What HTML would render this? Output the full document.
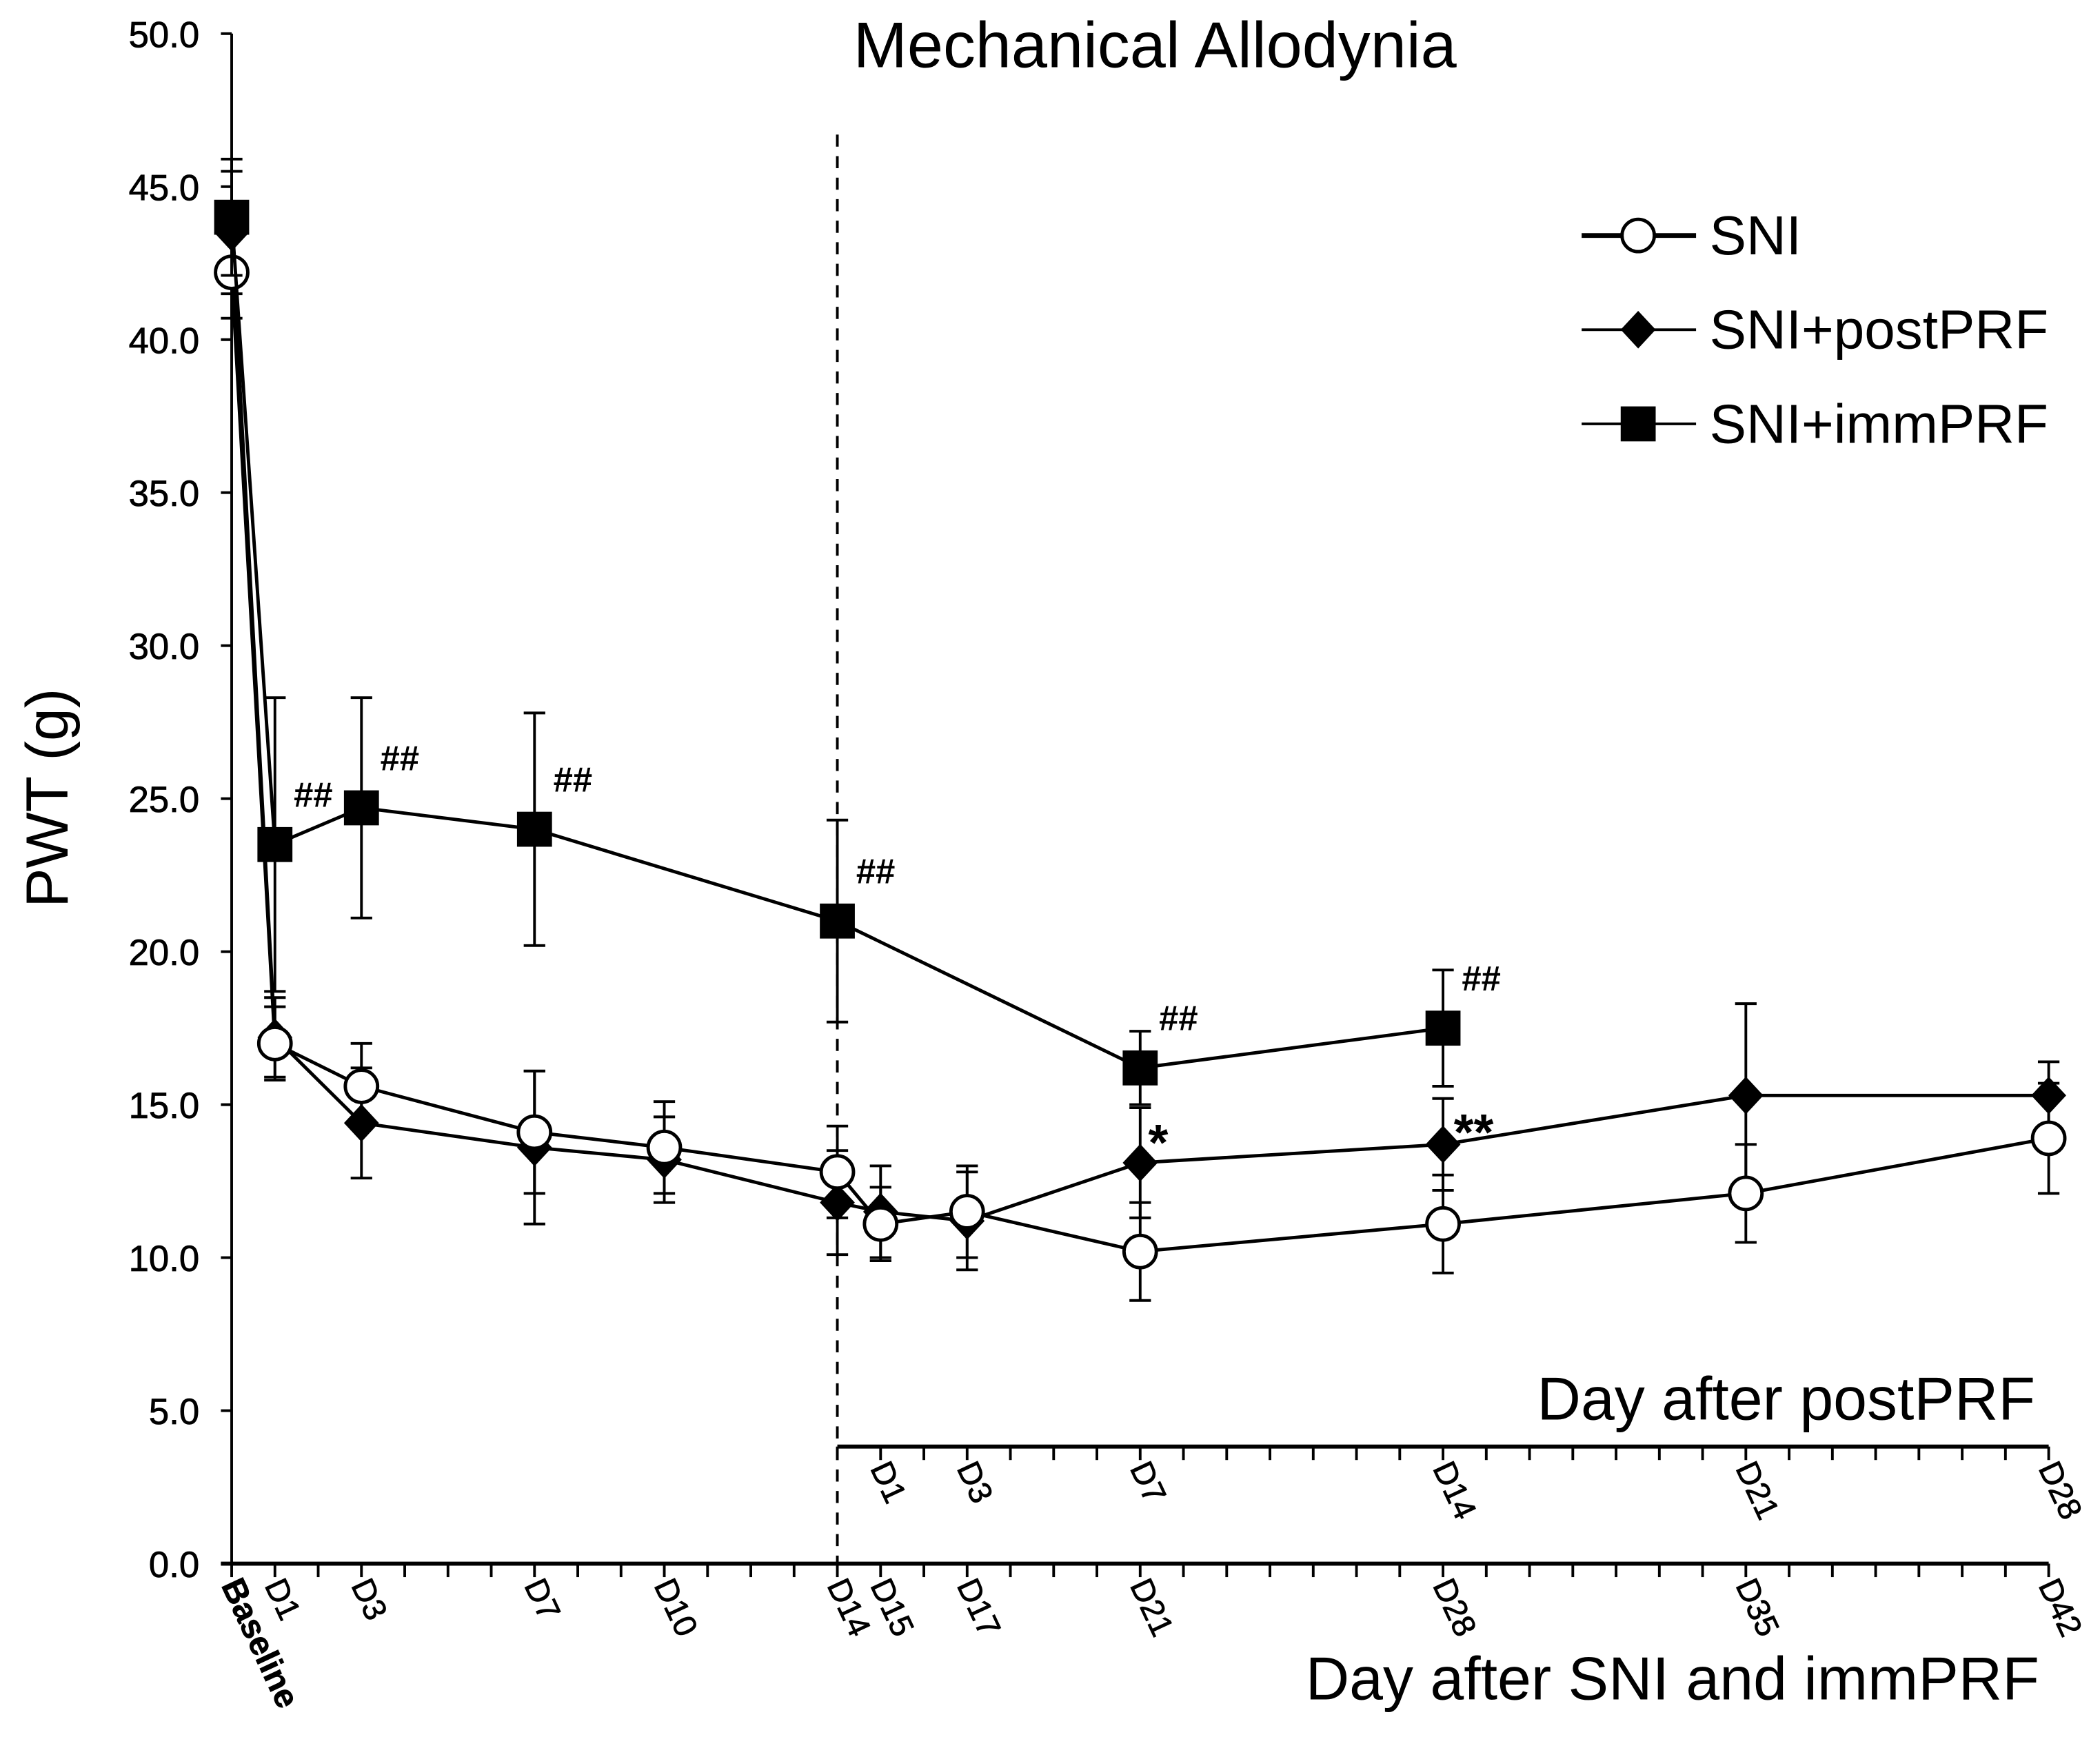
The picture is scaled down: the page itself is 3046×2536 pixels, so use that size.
<!DOCTYPE html>
<html><head><meta charset="utf-8"><style>
html,body{margin:0;padding:0;background:#fff}
svg{display:block}
text{font-family:"Liberation Sans",Arial,sans-serif;fill:#000}
</style></head><body>
<svg id="chart" width="3046" height="2536" viewBox="0 0 1560 1299" xmlns="http://www.w3.org/2000/svg">
<g id="g"></g>
</svg>
<script>
const days = [0,1,3,7,10,14,15,17,21,28,35,42];
const dayLabels = ["Baseline","D1","D3","D7","D10","D14","D15","D17","D21","D28","D35","D42"];
const postDays = [1,3,7,14,21,28];
const postLabels = ["D1","D3","D7","D14","D21","D28"];
const yTicks = [0,5,10,15,20,25,30,35,40,45,50];
const yTickLabels = ["0.0","5.0","10.0","15.0","20.0","25.0","30.0","35.0","40.0","45.0","50.0"];
const sniVals = [42.2,17.0,15.6,14.1,13.6,12.8,11.1,11.5,10.2,11.1,12.1,13.9];
const sniErr  = [1.5,1.2,1.4,2.0,1.5,1.5,1.2,1.5,1.6,1.6,1.6,1.8];
const postVals = [43.5,17.2,14.4,13.6,13.2,11.8,11.5,11.2,13.1,13.7,15.3,15.3];
const postErr  = [2.0,1.3,1.8,2.5,1.4,1.7,1.5,1.6,1.8,1.5,3.0,1.1];
const immDays = [0,1,3,7,14,21,28];
const immVals = [44.0,23.5,24.7,24.0,21.0,16.2,17.5];
const immErr  = [1.9,4.8,3.6,3.8,3.3,1.2,1.9];
const hashDays = [1,3,7,14,21,28];
const X0=172, X1=1522, Y0=1162, Y1=25;
const xs = d => X0 + (X1-X0)*d/42;
const ys = v => Y0 - (Y0-Y1)*v/50;
const NS="http://www.w3.org/2000/svg";
const g=document.getElementById('g');
function mk(tag,attrs,parent){const e=document.createElementNS(NS,tag);for(const k in attrs)e.setAttribute(k,attrs[k]);(parent||g).appendChild(e);return e;}
function txt(s,attrs,parent){const e=mk('text',attrs,parent);e.textContent=s;return e;}

let e;
e=mk('line',{x1:X0,y1:Y0,x2:X0,y2:Y1,stroke:'#000','stroke-width':2});


e=mk('line',{x1:X0-8,y1:Y0,x2:X1,y2:Y0,stroke:'#000','stroke-width':3});


yTicks.forEach((v,i)=>{
  mk('line',{x1:X0-8,y1:ys(v),x2:X0,y2:ys(v),stroke:'#000','stroke-width':2});
  e=txt(yTickLabels[i],{x:X0-24,y:ys(v)+10,'font-size':27,'text-anchor':'end',stroke:'#000','stroke-width':0.4});
  
  
});
for(let d=0;d<=42;d++){mk('line',{x1:xs(d),y1:Y0,x2:xs(d),y2:Y0+10,stroke:'#000','stroke-width':2});}
days.forEach((d,i)=>{
  const x=xs(d)-8,y=Y0+16;
  e=txt(dayLabels[i],{x:x,y:y,'font-size':dayLabels[i]==='Baseline'?25:24,transform:`rotate(65 ${x} ${y})`,'font-weight':dayLabels[i]==='Baseline'?'bold':'normal',stroke:'#000','stroke-width':0.4});
  
  
});
const PY=1075;
e=mk('line',{x1:xs(14),y1:PY,x2:X1,y2:PY,stroke:'#000','stroke-width':3});


for(let d=0;d<=28;d++){mk('line',{x1:xs(14+d),y1:PY,x2:xs(14+d),y2:PY+10,stroke:'#000','stroke-width':2});}
postDays.forEach((d,i)=>{
  const x=xs(14+d)-8,y=PY+16;
  e=txt(postLabels[i],{x:x,y:y,'font-size':24,transform:`rotate(65 ${x} ${y})`,stroke:'#000','stroke-width':0.4});
  
  
});
e=mk('line',{x1:xs(14),y1:100,x2:xs(14),y2:Y0,stroke:'#000','stroke-width':2,'stroke-dasharray':'9,7'});



function series(dd,vals,err,marker,name){
  const pts=dd.map((d,i)=>[xs(d),ys(vals[i])]);
  e=mk('polyline',{points:pts.map(p=>p.join(',')).join(' '),fill:'none',stroke:'#000','stroke-width':2.5});
  
  
  dd.forEach((d,i)=>{
    const x=xs(d),t=ys(vals[i]+err[i]),b=ys(vals[i]-err[i]);
    mk('line',{x1:x,y1:t,x2:x,y2:b,stroke:'#000','stroke-width':2});
    mk('line',{x1:x-8,y1:t,x2:x+8,y2:t,stroke:'#000','stroke-width':2});
    mk('line',{x1:x-8,y1:b,x2:x+8,y2:b,stroke:'#000','stroke-width':2});
  });
  dd.forEach((d,i)=>{
    const x=xs(d),y=ys(vals[i]);
    if(marker==='circle') e=mk('circle',{cx:x,cy:y,r:12,fill:'#fff',stroke:'#000','stroke-width':2.5});
    else if(marker==='diamond') e=mk('polygon',{points:`${x},${y-14} ${x+13},${y} ${x},${y+14} ${x-13},${y}`,fill:'#000'});
    else e=mk('rect',{x:x-13,y:y-13,width:26,height:26,fill:'#000'});
    
    
  });
}
series(days,postVals,postErr,'diamond','sni-postprf');
series(days,sniVals,sniErr,'circle','sni');
series(immDays,immVals,immErr,'square','sni-immprf');

hashDays.forEach(d=>{
  const i=immDays.indexOf(d);
  e=txt('##',{x:xs(d)+14,y:ys(immVals[i])-28,'font-size':26,'font-weight':'bold'});
  
  
});
e=txt('*',{x:xs(21)+6,y:ys(13.1)-2,'font-size':38,'font-weight':'bold'});


e=txt('**',{x:xs(28)+8,y:ys(13.7)+4,'font-size':38,'font-weight':'bold'});



const legY=[175,245,315], legT=['SNI','SNI+postPRF','SNI+immPRF'], legM=['circle','diamond','square'];
legT.forEach((t,i)=>{
  const y=legY[i],cx=1217;
  mk('line',{x1:1175,y1:y,x2:1260,y2:y,stroke:'#000','stroke-width':i===0?3.5:2});
  if(legM[i]==='circle') mk('circle',{cx:cx,cy:y,r:12,fill:'#fff',stroke:'#000','stroke-width':2.5});
  else if(legM[i]==='diamond') mk('polygon',{points:`${cx},${y-14} ${cx+13},${y} ${cx},${y+14} ${cx-13},${y}`,fill:'#000'});
  else mk('rect',{x:cx-13,y:y-13,width:26,height:26,fill:'#000'});
  e=txt(t,{x:1270,y:y+14,'font-size':41});
  
  
});

e=txt('Mechanical Allodynia',{x:858,y:50,'font-size':48,'text-anchor':'middle'});


e=txt('PWT (g)',{x:50,y:593,'font-size':44,'text-anchor':'middle',transform:'rotate(-90 50 593)'});


e=txt('Day after SNI and immPRF',{x:1515,y:1263,'font-size':45,'text-anchor':'end'});


e=txt('Day after postPRF',{x:1512,y:1055,'font-size':45,'text-anchor':'end'});


</script>
</body></html>
